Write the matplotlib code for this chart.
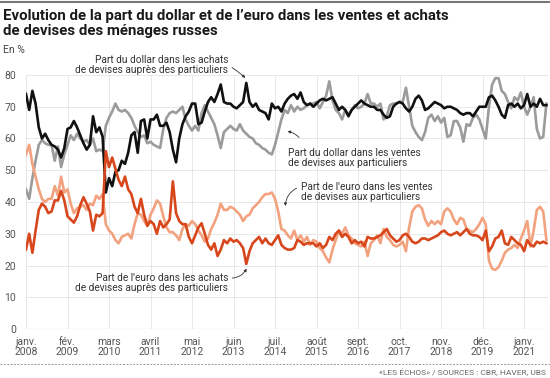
import matplotlib
matplotlib.use("Agg")
import matplotlib.pyplot as plt
from matplotlib.lines import Line2D
import numpy as np

plt.rcParams['font.family'] = ['Roboto', 'DejaVu Sans']

# monthly values, janv. 2008 -> aout 2021 (en %)
dollar_achats = [
    74, 69, 75, 71, 63.5, 60, 61.5, 59.5, 58, 57.5,
    56.5, 54, 57, 63, 63.5, 65.5, 63.5, 61, 58.5, 56.5,
    58, 67, 62, 63.5, 60.5, 43, 47.5, 45, 49.5, 50,
    53, 52, 55.5, 61, 62, 55.5, 65.5, 66, 60, 66,
    66, 67.5, 64, 64, 65, 62, 56.5, 52.5, 60, 64.5,
    67, 68.5, 71, 71, 64.5, 65, 68.5, 71.5, 73, 71.5,
    74, 77, 71.5, 71, 71, 70, 69.5, 70.5, 71.5, 77.5,
    71.5, 70, 71, 69, 68.5, 68, 66, 71, 69.5, 70,
    68.5, 71, 72.5, 73.5, 74, 72.5, 74.5, 71.5, 70.5, 71,
    70, 71, 72, 72.5, 72, 72.5, 73, 71, 69, 70,
    69, 67, 69, 70, 71, 72, 71, 70.5, 70, 70,
    69, 69, 67.5, 66.5, 67, 70, 71, 71.5, 71, 69.5,
    68.5, 70, 72.5, 73.5, 72, 69, 69.5, 70.5, 71.5, 71,
    70.5, 69.5, 70, 70, 69.5, 69, 68, 67.5, 68, 68,
    67, 68.5, 70, 70, 70, 73, 73.5, 72, 70, 67.5,
    66.5, 70.5, 71, 70, 71, 69.5, 70.5, 74, 70, 71,
    70, 72.5, 70.5, 70.5,
]

dollar_ventes = [
    44, 41, 47.5, 53, 58, 59.5, 58.5, 58, 58, 53,
    57.5, 51, 55, 58, 61, 59.5, 61.5, 60, 59, 59.5,
    58, 60, 56, 56.5, 56, 64, 66.5, 68.5, 71, 69,
    68.5, 69, 68, 66.5, 64, 62, 60.5, 61, 58.5, 59,
    58, 57.5, 57, 63, 66.5, 68, 68.5, 68, 69, 70,
    66, 64, 62.5, 64, 62.5, 68, 70.5, 68.5, 66.5, 64.5,
    61, 57, 62, 63, 64, 63, 62.5, 64.5, 62.5, 61.5,
    60.5, 60, 58.5, 58, 57, 56.5, 55.5, 55, 58, 62,
    66, 69, 68, 70.5, 68.5, 70, 69, 69.5, 70.5, 71,
    71, 71.5, 69.5, 71.5, 73.5, 78, 72, 69, 68, 66,
    69, 67.5, 69, 70.5, 69.5, 70, 71, 74, 71, 71,
    70, 71, 66, 67, 70.5, 71, 71, 71.5, 71.5, 76,
    70, 64, 62, 60.5, 59.5, 62, 66.5, 67.5, 65.5, 67,
    65, 66.5, 60.5, 61, 65.5, 65.5, 63.5, 59, 64.5, 64,
    66.5, 67.5, 66, 63, 60, 70, 77, 79, 79, 75,
    74, 71.5, 69.5, 73, 72, 74.5, 70, 67.5, 70, 73,
    63, 60, 60.5, 71,
]

euro_ventes = [
    55, 58, 52, 48, 44, 41, 40, 41, 41, 45,
    42, 48, 43, 44, 39.5, 36.5, 38, 38.5, 39, 37.5,
    39.5, 39, 42, 41, 42.5, 33, 31, 30, 28, 27,
    29, 29.5, 30, 28.5, 33, 36.5, 36, 34, 32.5, 36,
    38, 40.5, 39.5, 35.5, 32, 30.5, 30.5, 29.5, 28, 31.5,
    33, 32.5, 34, 33, 31, 29.5, 27.5, 28.5, 31.5, 33.5,
    36, 39.5, 37.5, 37.5, 38.5, 38, 37, 36, 34, 35.5,
    36, 38, 39, 40, 41.5, 42.5, 42.5, 43, 41, 37,
    31.5, 31, 29.5, 28.5, 31, 28, 29.5, 27.5, 29, 26.5,
    28, 27.5, 25.5, 24.5, 22.5, 21, 25, 28, 31, 30,
    32, 29.5, 28.5, 27, 26.5, 26, 27.5, 23, 27, 28,
    29.5, 27, 31.5, 29, 28, 26.5, 26, 26.5, 27.5, 24.5,
    32, 37, 38.5, 39, 38, 34.5, 32.5, 34, 33, 34,
    33, 37, 38, 37, 34.5, 33, 35, 34.5, 31.5, 31,
    30.5, 31.5, 33, 35, 33, 21.5, 19, 18.6, 19.5, 21.5,
    24, 25, 25.5, 26.5, 25.5, 28.5, 31, 34, 26, 31,
    37.5, 38.5, 37, 28,
]

euro_achats = [
    25, 30, 24, 31, 37.5, 39.5, 38.5, 36.5, 37, 40.5,
    40.5, 43.5, 40.5, 35.5, 34.5, 33.5, 35.5, 39, 41.5, 39.5,
    37, 31, 36, 35.5, 36.5, 56, 51, 54, 50.5, 47,
    45, 48, 44, 42.5, 38.5, 36.5, 41, 36, 32.5, 34,
    33, 30, 34, 32, 33, 34.5, 46.5, 36.5, 34, 33,
    33, 29, 27, 29.5, 32, 33.3, 30, 26.5, 25, 27,
    23, 25, 28, 27, 28.5, 27.5, 28, 27, 25.5, 20.5,
    24.5, 27, 28, 29, 27, 28.5, 27, 26.5, 28, 29.5,
    26.5, 25.5, 25, 25, 25.5, 28, 27.5, 26.5, 27, 27,
    27, 26, 27, 25.5, 26.5, 29, 28, 30, 31, 29,
    30, 29, 27, 28, 27, 27.5, 26, 29, 28.5, 28.5,
    29, 29.5, 30.5, 31.5, 29.5, 28.5, 27.5, 28, 29.5, 30,
    29, 27.5, 27, 27.5, 28.5, 28.5, 28, 28.5, 29, 29.5,
    30.5, 31, 30, 29.5, 30, 30.5, 29.5, 30.5, 31.5, 30,
    29.5, 29.5, 29, 28, 31, 24.5, 26, 28.5, 29, 31,
    27, 26.5, 29, 28, 27, 26.5, 24.5, 28, 26.5, 26,
    27.5, 27, 27.5, 27,
]

tick_labels = ["janv.\n2008", "fév.\n2009", "mars\n2010", "avril\n2011", "mai\n2012",
               "juin\n2013", "juil.\n2014", "août\n2015", "sept.\n2016", "oct.\n2017",
               "nov.\n2018", "déc.\n2019", "janv.\n2021"]
y_ticks = [0, 10, 20, 30, 40, 50, 60, 70, 80]

months = np.arange(len(dollar_achats))

fig = plt.figure(figsize=(5.5, 3.78), dpi=100)
ax = fig.add_axes([26 / 550, 1 - 329 / 378, 522 / 550, 254 / 378])

ax.plot(months, dollar_ventes, color='#9b9b9b', lw=1.9, zorder=3)
ax.plot(months, dollar_achats, color='#111111', lw=1.9, zorder=4)
ax.plot(months, euro_ventes, color='#f2a27f', lw=1.9, zorder=3)
ax.plot(months, euro_achats, color='#d8461c', lw=1.9, zorder=4)

ax.set_xlim(0, 163.5)
ax.set_ylim(0, 80)
ax.set_yticks(y_ticks)
ax.set_xticks(np.arange(0, 157, 13))
ax.set_xticklabels(tick_labels, linespacing=0.95)
ax.tick_params(length=0, labelsize=7.5, labelcolor='#555555')
ax.tick_params(axis='y', pad=7)
ax.tick_params(axis='x', pad=6)
ax.grid(True, color='#e4e4e4', lw=0.6)
ax.set_axisbelow(True)
for s in ax.spines.values():
    s.set_visible(False)
ax.axhline(0, color='#bcbcbc', lw=0.8, zorder=1)

fig.text(3 / 550, 1 - 16 / 378, "Evolution de la part du dollar et de l\u2019euro dans les ventes et achats",
         fontsize=10.8, fontweight='bold', color='#1a1a1a', va='center')
fig.text(3 / 550, 1 - 31 / 378, "de devises des ménages russes",
         fontsize=10.8, fontweight='bold', color='#1a1a1a', va='center')
fig.text(3 / 550, 1 - 50 / 378, "En %", fontsize=7.5, color='#444444', va='center')
fig.text(546 / 550, 1 - 372 / 378, "\u00abLES ÉCHOS\u00bb / SOURCES : CBR, HAVER, UBS",
         fontsize=6.0, color='#666666', ha='right', va='center')
fig.add_artist(Line2D([0, 1], [1 - 364 / 378] * 2, color='#999999', lw=0.7, ls=(0, (2, 1.5))))
fig.add_artist(Line2D([0, 1], [0.995, 0.995], color='#777777', lw=1.5))

ann = dict(fontsize=7.3, color='#333333', linespacing=1.0, annotation_clip=False)
ax.annotate("Part du dollar dans les achats\nde devises auprès des particuliers",
            xy=(69, 78.8), xytext=(63.3, 83), ha='right', va='center',
            arrowprops=dict(arrowstyle='-|>', color='#333333', lw=0.6, mutation_scale=4,
                            shrinkA=1, shrinkB=1, connectionstyle='arc3,rad=-0.35'), **ann)
ax.annotate("Part du dollar dans les ventes\nde devises aux particuliers",
            xy=(81.5, 62.3), xytext=(82, 54), ha='left', va='center',
            arrowprops=dict(arrowstyle='-|>', color='#333333', lw=0.6, mutation_scale=4,
                            shrinkA=6, shrinkB=1, connectionstyle='arc3,rad=0.35',
                            relpos=(0.12, 1.0)), **ann)
ax.annotate("Part de l'euro dans les ventes\nde devises aux particuliers",
            xy=(81.2, 38.3), xytext=(86, 43.3), ha='left', va='center',
            arrowprops=dict(arrowstyle='-|>', color='#333333', lw=0.6, mutation_scale=4,
                            shrinkA=1, shrinkB=1, connectionstyle='arc3,rad=0.35',
                            relpos=(0.0, 0.75)), **ann)
ax.annotate("Part de l'euro dans les achats\nde devises auprès des particuliers",
            xy=(69.3, 19.4), xytext=(63.3, 14.5), ha='right', va='center',
            arrowprops=dict(arrowstyle='-|>', color='#333333', lw=0.6, mutation_scale=4,
                            shrinkA=1, shrinkB=1, connectionstyle='arc3,rad=0.35',
                            relpos=(1.0, 0.75)), **ann)

fig.savefig("out.png", dpi=100, facecolor='white')
